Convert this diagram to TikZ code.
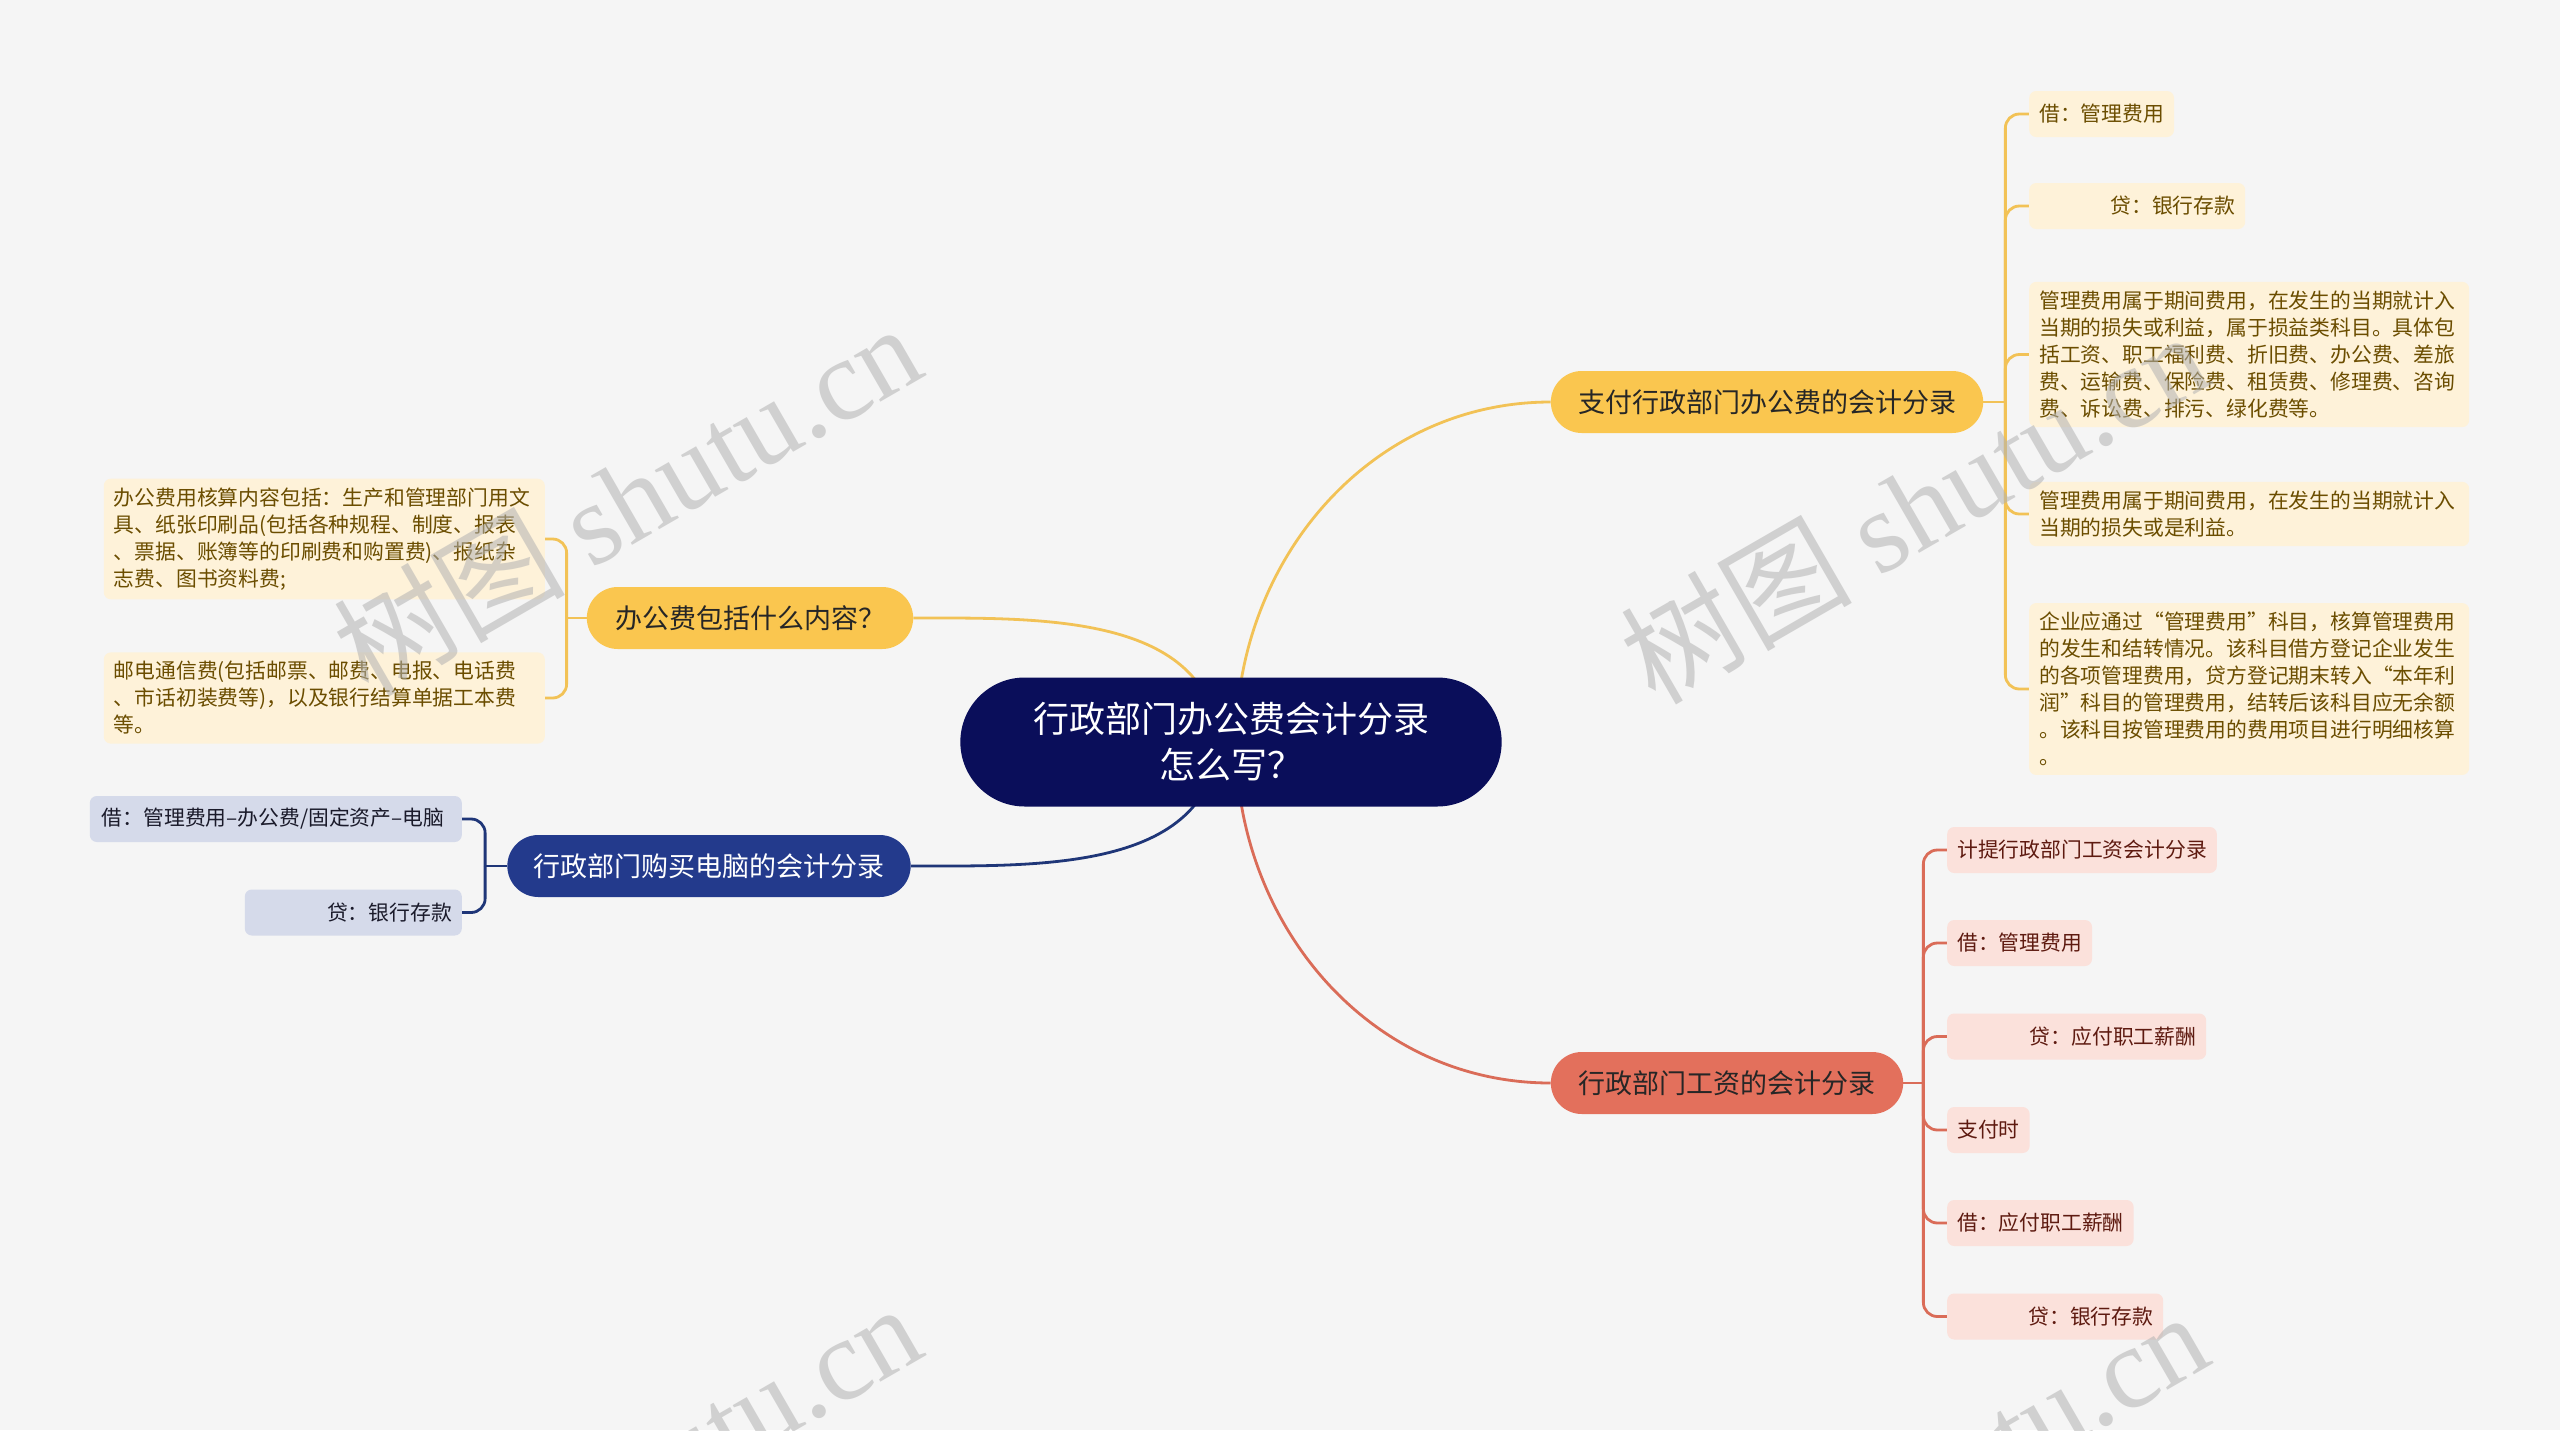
\documentclass[tikz,border=0pt]{standalone}
\usepackage{fontspec}
\setmainfont{Noto Sans CJK SC}
\newfontfamily\wmlatin{Liberation Serif}
\usetikzlibrary{shapes.misc}

\definecolor{bgcol}{HTML}{F5F5F5}
\definecolor{rootfill}{HTML}{0A0E5A}
\definecolor{yelfill}{HTML}{FAC64F}
\definecolor{yelline}{HTML}{F2C256}
\definecolor{yelleaf}{HTML}{FEF2D9}
\definecolor{yeltext}{HTML}{6B4D00}
\definecolor{redfill}{HTML}{E3705C}
\definecolor{redline}{HTML}{DA6C58}
\definecolor{redleaf}{HTML}{FBE1DB}
\definecolor{redtext}{HTML}{5E1A10}
\definecolor{bluefill}{HTML}{233A8C}
\definecolor{blueline}{HTML}{1F3678}
\definecolor{blueleaf}{HTML}{D5DAEA}
\definecolor{bluetext}{HTML}{1A1A2A}

\pgfdeclarelayer{back}
\pgfdeclarelayer{edges}
\pgfsetlayers{back,edges,main}

\tikzset{
  root/.style={rounded rectangle, fill=rootfill, text=white, align=center,
    minimum width=548, minimum height=129, font=\fontsize{36}{46}\selectfont},
  branch/.style={rounded rectangle, minimum height=62, text=black!85,
    font=\fontsize{27}{32}\selectfont},
  leaf/.style={rectangle, rounded corners=7, inner xsep=10, inner ysep=9,
    minimum height=46, align=left, font=\fontsize{20.8}{27}\selectfont},
  yleaf/.style={leaf, fill=yelleaf, text=yeltext},
  rleaf/.style={leaf, fill=redleaf, text=redtext},
  bleaf/.style={leaf, fill=blueleaf, text=bluetext},
  link/.style={line width=2.8},
  wmark/.style={text=gray!60, opacity=0.55, font=\fontsize{116}{116}\selectfont}
}

\begin{document}
\begin{tikzpicture}[x=1pt,y=1pt]

% Canvas
\useasboundingbox (0,0) rectangle (2560,-1430);
\begin{pgfonlayer}{back}
  \fill[bgcol] (0,0) rectangle (2560,-1430);
\end{pgfonlayer}

% Root
\node[root] (root) at (1231,-742) {行政部门办公费会计分录\\怎么写？};

% Main branches
\node[branch, fill=yelfill, minimum width=439] (pay) at (1767,-402) {支付行政部门办公费的会计分录};
\node[branch, fill=yelfill, minimum width=333] (content) at (750,-618) {办公费包括什么内容？};
\node[branch, fill=bluefill, text=white, minimum width=410] (pc) at (709,-866) {行政部门购买电脑的会计分录};
\node[branch, fill=redfill, minimum width=359] (wage) at (1727,-1083) {行政部门工资的会计分录};

% Leaves of the payment branch
\node[yleaf, anchor=west] (pay1) at (2029,-114) {借：管理费用};
\node[yleaf, anchor=west, text width=196, align=right] (pay2) at (2029,-206) {贷：银行存款};
\node[yleaf, anchor=west, text width=420] (pay3) at (2029,-354.5) {管理费用属于期间费用，在发生的当期就计入\\当期的损失或利益，属于损益类科目。具体包\\括工资、职工福利费、折旧费、办公费、差旅\\费、运输费、保险费、租赁费、修理费、咨询\\费、诉讼费、排污、绿化费等。};
\node[yleaf, anchor=west, text width=420] (pay4) at (2029,-514) {管理费用属于期间费用，在发生的当期就计入\\当期的损失或是利益。};
\node[yleaf, anchor=west, text width=420] (pay5) at (2029,-689) {企业应通过“管理费用”科目，核算管理费用\\的发生和结转情况。该科目借方登记企业发生\\的各项管理费用，贷方登记期末转入“本年利\\润”科目的管理费用，结转后该科目应无余额\\。该科目按管理费用的费用项目进行明细核算\\。};

% Leaves of the content branch
\node[yleaf, anchor=east, text width=421] (content1) at (545,-539) {办公费用核算内容包括：生产和管理部门用文\\具、纸张印刷品(包括各种规程、制度、报表\\、票据、账簿等的印刷费和购置费)、报纸杂\\志费、图书资料费;};
\node[yleaf, anchor=east, text width=421] (content2) at (545,-698) {邮电通信费(包括邮票、邮费、电报、电话费\\、市话初装费等)，以及银行结算单据工本费\\等。};

% Leaves of the computer branch
\node[bleaf, anchor=east, inner xsep=12, text width=348] (pc1) at (462,-819) {借：管理费用–办公费/固定资产–电脑};
\node[bleaf, anchor=east, text width=197, align=right] (pc2) at (462,-912.5) {贷：银行存款};

% Leaves of the wage branch
\node[rleaf, anchor=west] (wage1) at (1947,-850) {计提行政部门工资会计分录};
\node[rleaf, anchor=west] (wage2) at (1947,-943) {借：管理费用};
\node[rleaf, anchor=west, text width=239, align=right] (wage3) at (1947,-1036.5) {贷：应付职工薪酬};
\node[rleaf, anchor=west] (wage4) at (1947,-1130) {支付时};
\node[rleaf, anchor=west] (wage5) at (1947,-1223) {借：应付职工薪酬};
\node[rleaf, anchor=west, text width=196, align=right] (wage6) at (1947,-1316.5) {贷：银行存款};

% Connectors
\begin{pgfonlayer}{edges}
  \draw[link, yelline] ([xshift=5]root.center) to[out=90,in=180] (pay.west);
  \draw[link, yelline] ([xshift=-12]root.center) to[out=95,in=0] (content.east);
  \draw[link, blueline] ([xshift=-12]root.center) to[out=-95,in=0] (pc.east);
  \draw[link, redline] ([xshift=5]root.center) to[out=-90,in=180] (wage.west);

  \draw[link, yelline] (pay.east) -- ++(22,0) coordinate (payj);
  \foreach \i in {1,...,5}
    \draw[link, yelline, rounded corners=14] (payj) |- (pay\i.west);

  \draw[link, yelline] (content.west) -- ++(-20,0) coordinate (contentj);
  \foreach \i in {1,2}
    \draw[link, yelline, rounded corners=14] (contentj) |- (content\i.east);

  \draw[link, blueline] (pc.west) -- ++(-22,0) coordinate (pcj);
  \foreach \i in {1,2}
    \draw[link, blueline, rounded corners=14] (pcj) |- (pc\i.east);

  \draw[link, redline] (wage.east) -- ++(20,0) coordinate (wagej);
  \foreach \i in {1,...,6}
    \draw[link, redline, rounded corners=14] (wagej) |- (wage\i.west);
\end{pgfonlayer}

% Watermarks
\foreach \wx/\wy [count=\k] in {365/-700, 1652/-708, 365/-1680, 1652/-1688}
  \node[wmark, anchor=base west, rotate=30] (wm\k) at (\wx,\wy) {树图 {\wmlatin shutu.cn}};

\end{tikzpicture}
\end{document}
